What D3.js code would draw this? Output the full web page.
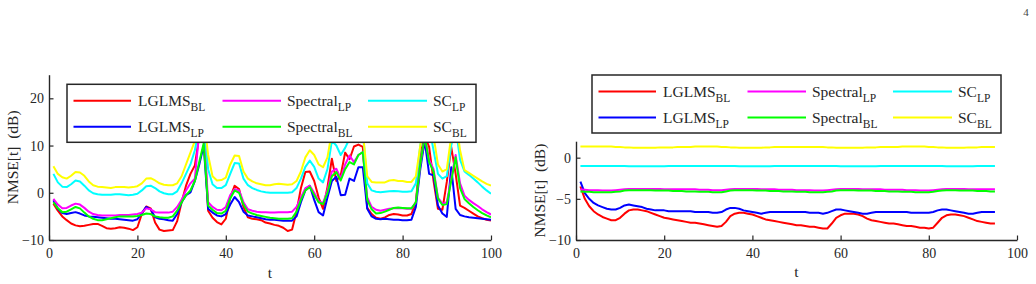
<!DOCTYPE html>
<html lang="en">
<head>
<meta charset="UTF-8">
<title>NMSE[t] over time</title>
<style>
  body { margin: 0; background: #fff; }
  svg { display: block; }
</style>
<script src="https://cdn.jsdelivr.net/npm/d3@7"></script>
</head>
<body>
<svg id="chart" width="1036" height="284"></svg>
<script>
// ---- data (dB) ----
const seriesNames = [
  ["LGLMS", "BL"], ["LGLMS", "LP"], ["Spectral", "LP"],
  ["Spectral", "BL"], ["SC", "LP"], ["SC", "BL"]
];
const seriesColors = ["#ff0000", "#0000ff", "#ff00ff", "#00ff00", "#00ffff", "#ffff00"];

// left panel, t = 1..100
const leftT = d3.range(1, 101);
const leftLglmsBL = [-2.3,-3.8,-5.0,-5.8,-6.5,-6.9,-7.1,-7.0,-6.8,-6.6,-6.6,-7.0,-7.5,-7.6,-7.5,-7.3,-7.4,-7.6,-7.9,-7.3,
  -4.5,-2.9,-3.3,-6.3,-7.8,-8.1,-8.0,-7.9,-6.0,-2.0,1.5,4.0,5.8,12,14,-3.8,-5.3,-6.2,-6.7,-5.5,
  -1.0,1.5,0.8,-3.0,-5.2,-5.5,-5.6,-5.8,-6.3,-6.5,-6.8,-7.0,-7.4,-8.1,-7.8,-4.0,1.0,4.4,4.5,2.5,
  -1.0,-3.4,1.2,7.2,2.5,3.7,8.5,7.1,9.8,10.2,9.7,-3.2,-4.5,-5.3,-5.5,-5.2,-4.7,-4.5,-4.6,-4.8,
  -4.8,-4.5,-2.0,8.0,12,9.7,2.5,-3.4,-3.6,2.3,9.7,4.0,-2.7,-3.2,-3.8,-4.4,-5.0,-5.4,-5.7,-5.9];
const leftLglmsLP = [-1.6,-3.4,-4.3,-4.5,-4.3,-4.1,-4.4,-4.8,-5.0,-5.1,-5.2,-5.3,-5.4,-5.5,-5.5,-5.6,-5.7,-5.8,-5.9,-5.6,
  -4.3,-3.0,-3.5,-5.2,-5.5,-5.6,-5.8,-5.9,-4.5,-2.0,-0.5,0.1,2.5,6.0,10.0,-3.4,-4.2,-4.8,-5.0,-4.5,
  -2.5,-0.9,-2.0,-4.0,-4.8,-5.0,-5.2,-5.4,-5.6,-5.7,-5.7,-5.8,-5.9,-5.9,-5.9,-5.0,-2.0,0.5,1.5,-1.5,
  -4.1,-4.8,-1.0,2.5,3.4,-0.5,-0.4,3.0,2.5,5.4,5.4,-3.4,-5.0,-5.5,-5.6,-5.5,-5.6,-5.7,-5.7,-5.8,
  -5.8,-5.7,-3.0,5.0,11,4.0,3.7,-2.7,-4.4,-5.1,5.4,-3.4,-4.7,-5.0,-5.2,-5.3,-5.4,-5.5,-5.6,-5.7];
const leftSpectralLP = [-1.3,-2.5,-3.3,-3.2,-2.7,-2.3,-2.5,-3.2,-4.0,-4.5,-4.7,-4.8,-4.8,-4.8,-4.8,-4.7,-4.7,-4.7,-4.6,-4.5,
  -4.2,-3.3,-3.5,-4.1,-4.2,-4.2,-4.2,-4.0,-3.0,-1.5,0.5,2.0,3.0,13,14,-2.0,-3.0,-3.6,-3.7,-3.0,
  -0.5,0.8,0.5,-2.0,-3.5,-3.8,-4.0,-4.1,-4.1,-4.2,-4.2,-4.1,-4.1,-4.1,-4.0,-3.0,-1.0,1.0,1.5,0.0,
  -1.8,-2.2,0.5,4.5,5.1,3.0,6.0,7.9,6.5,8.0,8.6,-1.0,-3.0,-3.6,-3.8,-3.6,-3.4,-3.3,-3.3,-3.3,
  -3.4,-3.4,-2.0,6.0,12,7.0,5.0,-1.0,-2.3,-2.0,3.0,8.0,2.0,-0.6,-1.5,-2.2,-2.8,-3.5,-4.1,-4.6];
const leftSpectralBL = [-2.0,-3.3,-4.1,-4.0,-3.5,-3.0,-3.3,-4.2,-5.0,-5.5,-5.8,-5.8,-5.6,-5.4,-5.2,-5.0,-5.0,-5.0,-5.0,-4.9,
  -4.7,-4.4,-4.5,-5.0,-5.2,-5.3,-5.3,-5.0,-3.8,-2.0,-0.5,0.5,2.5,6.5,10.5,-2.7,-3.6,-4.3,-4.4,-3.8,
  -1.2,0.5,0.0,-2.5,-4.0,-4.4,-4.7,-4.9,-5.1,-5.3,-5.4,-5.5,-5.5,-5.5,-5.4,-4.0,-1.5,0.5,1.2,-0.5,
  -2.0,-2.4,0.0,3.5,4.4,2.6,5.0,6.5,6.0,8.0,8.6,-1.5,-3.5,-4.4,-4.3,-4.0,-3.6,-3.2,-3.1,-3.2,
  -3.3,-3.3,-2.0,6.0,12,6.5,4.5,-1.2,-2.6,-2.4,2.5,7.5,1.0,-1.3,-2.2,-3.0,-3.7,-4.3,-4.8,-5.2];
const leftScLP = [4.0,2.2,1.3,1.2,1.8,2.6,2.4,1.5,0.5,-0.1,-0.3,-0.4,-0.4,-0.4,-0.3,-0.3,-0.4,-0.5,-0.4,-0.2,
  0.5,1.4,1.5,1.0,0.3,-0.1,-0.3,-0.3,0.3,2.0,4.0,6.0,9.0,14,16,5.0,1.8,1.0,1.0,1.6,
  4.0,6.3,6.2,3.0,1.6,1.0,0.6,0.3,0.1,0.0,0.0,0.0,0.0,0.0,0.1,1.0,3.0,5.5,6.8,5.5,
  3.0,2.2,5.0,11,10,8.0,9.5,11.5,14,15,13,2.0,0.5,0.2,0.1,0.2,0.3,0.4,0.3,0.2,
  0.2,0.3,2.0,10,15,14,9,4.0,3.0,3.5,10,14,7,4.5,3.8,3.0,2.2,1.3,0.5,-0.2];
const leftScBL = [5.6,4.0,3.3,3.0,3.6,4.4,4.3,3.6,2.4,1.6,1.3,1.2,1.1,1.0,1.2,1.2,1.2,1.1,1.2,1.4,
  2.0,3.0,3.1,2.6,2.0,1.7,1.6,1.6,2.0,3.5,6.0,8.5,11,14,16,8,3.5,2.6,2.7,3.2,
  6,7.9,7.8,4.5,3.0,2.4,2.0,1.8,1.6,1.6,1.8,1.9,1.8,1.7,1.8,2.5,4.5,7.5,9.0,8.0,
  6.0,5.4,7.5,13,16,14,13,15,16,16,13,3.5,2.3,2.2,2.2,2.2,2.6,2.7,2.5,2.5,
  2.3,2.3,3.5,10,16,16,12,6,4.5,5.0,12,16,9,4.8,4.2,3.6,3.0,2.4,1.9,1.5];

// right panel, t = 1..95
const rightT = d3.range(1, 96);
const rightLglmsBL = [-3.5,-5.0,-5.9,-6.5,-6.9,-7.2,-7.4,-7.6,-7.6,-7.3,-6.8,-6.4,-6.3,-6.3,-6.4,-6.5,-6.7,-6.9,-7.1,-7.3,
  -7.4,-7.5,-7.6,-7.7,-7.8,-7.9,-7.9,-8.0,-8.1,-8.2,-8.3,-8.4,-8.3,-7.8,-7.1,-6.8,-6.7,-6.7,-6.8,-6.9,
  -7.1,-7.3,-7.5,-7.6,-7.7,-7.8,-7.9,-8.0,-8.1,-8.2,-8.2,-8.3,-8.4,-8.4,-8.5,-8.6,-8.6,-8.0,-7.3,-7.0,
  -6.8,-6.8,-6.8,-6.9,-7.1,-7.4,-7.6,-7.7,-7.8,-7.9,-8.0,-8.0,-8.1,-8.2,-8.3,-8.3,-8.4,-8.5,-8.5,-8.6,
  -8.5,-7.9,-7.3,-7.0,-6.9,-6.9,-7.0,-7.1,-7.3,-7.5,-7.7,-7.8,-7.9,-8.0,-8.0];
const rightLglmsLP = [-2.9,-4.3,-5.0,-5.5,-5.8,-6.0,-6.2,-6.3,-6.3,-6.1,-5.8,-5.7,-5.8,-5.9,-6.0,-6.2,-6.3,-6.4,-6.4,-6.4,
  -6.5,-6.5,-6.5,-6.5,-6.5,-6.5,-6.6,-6.6,-6.6,-6.6,-6.7,-6.7,-6.6,-6.3,-6.1,-6.1,-6.2,-6.4,-6.5,-6.6,
  -6.7,-6.8,-6.7,-6.6,-6.6,-6.6,-6.6,-6.6,-6.6,-6.6,-6.6,-6.6,-6.7,-6.7,-6.7,-6.8,-6.7,-6.5,-6.3,-6.3,
  -6.4,-6.5,-6.6,-6.7,-6.8,-6.8,-6.7,-6.6,-6.6,-6.6,-6.6,-6.6,-6.6,-6.6,-6.6,-6.7,-6.7,-6.7,-6.7,-6.7,
  -6.6,-6.4,-6.3,-6.3,-6.4,-6.5,-6.6,-6.7,-6.8,-6.8,-6.7,-6.6,-6.6,-6.6,-6.6];
const rightSpectralLP = [-3.85,-3.9,-3.95,-3.95,-3.95,-4.0,-4.0,-4.0,-3.95,-3.9,-3.85,-3.8,-3.8,-3.8,-3.8,-3.8,-3.8,-3.8,-3.8,-3.85,
  -3.85,-3.85,-3.85,-3.85,-3.85,-3.85,-3.85,-3.9,-3.9,-3.9,-3.95,-3.95,-3.95,-3.9,-3.85,-3.8,-3.8,-3.8,-3.8,-3.8,
  -3.8,-3.85,-3.85,-3.85,-3.85,-3.9,-3.9,-3.9,-3.9,-3.95,-3.95,-3.95,-3.95,-4.0,-4.0,-4.0,-3.95,-3.9,-3.85,-3.8,
  -3.8,-3.8,-3.8,-3.8,-3.85,-3.85,-3.85,-3.85,-3.85,-3.9,-3.9,-3.9,-3.9,-3.9,-3.95,-3.95,-3.95,-4.0,-4.0,-4.0,
  -3.95,-3.9,-3.85,-3.8,-3.8,-3.8,-3.8,-3.8,-3.85,-3.85,-3.85,-3.85,-3.85,-3.85,-3.85];
const rightSpectralBL = [-4.1,-4.15,-4.15,-4.2,-4.2,-4.2,-4.2,-4.2,-4.15,-4.1,-4.0,-3.95,-3.95,-3.95,-3.95,-3.95,-3.95,-4.0,-4.0,-4.0,
  -4.0,-4.05,-4.05,-4.05,-4.1,-4.1,-4.1,-4.15,-4.15,-4.15,-4.2,-4.2,-4.2,-4.1,-4.0,-3.95,-3.95,-3.95,-3.95,-3.95,
  -4.0,-4.0,-4.0,-4.05,-4.05,-4.05,-4.1,-4.1,-4.1,-4.15,-4.15,-4.15,-4.2,-4.2,-4.2,-4.2,-4.15,-4.1,-4.0,-3.95,
  -3.95,-3.95,-3.95,-4.0,-4.0,-4.0,-4.0,-4.05,-4.05,-4.05,-4.1,-4.1,-4.1,-4.15,-4.15,-4.15,-4.2,-4.2,-4.2,-4.2,
  -4.15,-4.05,-4.0,-3.95,-3.95,-3.95,-4.0,-4.0,-4.0,-4.0,-4.05,-4.05,-4.05,-4.1,-4.1];
const rightScLP = [-1.0,-1.0,-1.0,-1.0,-1.0,-1.0,-1.0,-1.0,-1.0,-1.0,-1.0,-1.05,-1.05,-1.05,-1.05,-1.05,-1.05,-1.05,-1.05,-1.05,
  -1.0,-1.0,-1.0,-1.0,-1.0,-1.0,-1.0,-1.0,-1.0,-1.0,-1.0,-1.0,-1.0,-1.0,-1.0,-1.0,-1.05,-1.05,-1.05,-1.05,
  -1.05,-1.05,-1.05,-1.05,-1.0,-1.0,-1.0,-1.0,-1.0,-1.0,-1.0,-1.0,-1.0,-1.0,-1.0,-1.0,-1.0,-1.0,-1.0,-1.05,
  -1.05,-1.05,-1.05,-1.05,-1.05,-1.05,-1.05,-1.05,-1.0,-1.0,-1.0,-1.0,-1.0,-1.0,-1.0,-1.0,-1.0,-1.0,-1.0,-1.0,
  -1.0,-1.0,-1.0,-1.05,-1.05,-1.05,-1.05,-1.05,-1.05,-1.05,-1.0,-1.0,-1.0,-1.0,-1.0];
const rightScBL = [1.35,1.35,1.35,1.35,1.35,1.35,1.35,1.35,1.3,1.3,1.25,1.25,1.2,1.2,1.2,1.2,1.2,1.2,1.25,1.25,
  1.25,1.25,1.3,1.3,1.3,1.3,1.35,1.35,1.35,1.35,1.35,1.35,1.3,1.3,1.25,1.25,1.2,1.2,1.2,1.2,
  1.2,1.2,1.25,1.25,1.3,1.3,1.3,1.3,1.3,1.3,1.3,1.3,1.3,1.3,1.3,1.3,1.25,1.25,1.2,1.2,
  1.2,1.2,1.2,1.2,1.2,1.25,1.25,1.25,1.3,1.3,1.3,1.3,1.3,1.35,1.35,1.35,1.35,1.35,1.35,1.3,
  1.3,1.25,1.25,1.2,1.2,1.2,1.2,1.2,1.25,1.25,1.25,1.3,1.3,1.3,1.3];

const leftTicksY = [-10, 0, 10, 20];
const rightTicksY = [-10, -5, 0];
const ticksX = [0, 20, 40, 60, 80, 100];

// ---- layout ----
const panels = [
  { x0: 49, x1: 491, yTop: 74.7, yBot: 240, yDomain: [-10, 25], yTicks: leftTicksY,
    t: leftT, data: [leftLglmsBL, leftLglmsLP, leftSpectralLP, leftSpectralBL, leftScLP, leftScBL],
    legend: { x: 67, y: 84.3 }, labelX: 13, xLabelY: 278 },
  { x0: 576, x1: 1017, yTop: 141.2, yBot: 240, yDomain: [-10, 2], yTicks: rightTicksY,
    t: rightT, data: [rightLglmsBL, rightLglmsLP, rightSpectralLP, rightSpectralBL, rightScLP, rightScBL],
    legend: { x: 592, y: 75 }, labelX: 540, xLabelY: 277 }
];
const axisColor = "#262626";
const serif = "'Liberation Serif', 'Times New Roman', serif";

const svg = d3.select("#chart");

// legend slots: column-major, 2 rows x 3 columns
const legendSlots = [
  { col: 0, row: 0 }, { col: 0, row: 1 }, { col: 1, row: 0 },
  { col: 1, row: 1 }, { col: 2, row: 0 }, { col: 2, row: 1 }
];
const colLine = [[6.5, 64], [155.5, 214], [301, 360]];
const colText = [71, 220, 366];
const rowY = [16.5, 42.5];

panels.forEach((p, pi) => {
  const x = d3.scaleLinear().domain([0, 100]).range([p.x0, p.x1]);
  const y = d3.scaleLinear().domain(p.yDomain).range([p.yBot, p.yTop]);

  const clipId = "clip" + pi;
  svg.append("clipPath").attr("id", clipId)
    .append("rect")
    .attr("x", p.x0).attr("y", p.yTop)
    .attr("width", p.x1 - p.x0).attr("height", p.yBot - p.yTop);

  // lines
  const line = d3.line().x(d => x(d[0])).y(d => y(d[1]));
  const g = svg.append("g").attr("clip-path", `url(#${clipId})`);
  p.data.forEach((vals, i) => {
    g.append("path")
      .attr("d", line(p.t.map((t, k) => [t, vals[k]])))
      .attr("fill", "none")
      .attr("stroke", seriesColors[i])
      .attr("stroke-width", 2)
      .attr("stroke-linejoin", "round");
  });

  // axes (inward ticks, matlab style)
  const xAxis = svg.append("g")
    .attr("transform", `translate(0,${p.yBot})`)
    .call(d3.axisBottom(x).tickValues(ticksX).tickSizeInner(-4.5).tickSizeOuter(0).tickPadding(8));
  const yAxis = svg.append("g")
    .attr("transform", `translate(${p.x0},0)`)
    .call(d3.axisLeft(y).tickValues(p.yTicks).tickSizeInner(-4.5).tickSizeOuter(0).tickPadding(5));
  [xAxis, yAxis].forEach(a => {
    a.select(".domain").attr("stroke", axisColor).attr("stroke-width", 1.4);
    a.selectAll(".tick line").attr("stroke", axisColor).attr("stroke-width", 1.2);
    a.selectAll(".tick text")
      .style("font-size", "14px")
      .attr("fill", axisColor);
  });

  // axis titles
  svg.append("text")
    .attr("transform", `translate(${p.labelX},${(p.yTop + p.yBot) / 2}) rotate(-90)`)
    .attr("text-anchor", "middle")
    .attr("dy", "0.35em")
    .style("font-size", "15.5px")
    .style("white-space", "pre")
    .text("NMSE[t]  (dB)");
  svg.append("text")
    .attr("x", (p.x0 + p.x1) / 2)
    .attr("y", p.xLabelY)
    .attr("text-anchor", "middle")
    .style("font-size", "15.5px")
    .text("t");

  // legend box
  const lg = svg.append("g").attr("transform", `translate(${p.legend.x},${p.legend.y})`);
  lg.append("rect")
    .attr("width", 409).attr("height", 58)
    .attr("fill", "#fff")
    .attr("stroke", axisColor)
    .attr("stroke-width", 1.5);
  seriesNames.forEach((nm, i) => {
    const s = legendSlots[i];
    const ly = rowY[s.row];
    lg.append("line")
      .attr("x1", colLine[s.col][0]).attr("x2", colLine[s.col][1])
      .attr("y1", ly).attr("y2", ly)
      .attr("stroke", seriesColors[i])
      .attr("stroke-width", 2);
    const tx = lg.append("text")
      .attr("x", colText[s.col])
      .attr("y", ly + 5.5)
      .style("font-size", "15.5px")
      .text(nm[0]);
    tx.append("tspan")
      .attr("dy", 5)
      .style("font-size", "11.5px")
      .text(nm[1]);
  });
});

// page number
svg.append("text")
  .attr("x", 1026).attr("y", 16)
  .attr("text-anchor", "middle")
  .style("font-size", "11px")
  .attr("fill", "#444")
  .text("4");

svg.selectAll("text").style("font-family", serif).filter(function () {
  return !this.getAttribute("fill");
}).attr("fill", axisColor);
</script>
</body>
</html>
